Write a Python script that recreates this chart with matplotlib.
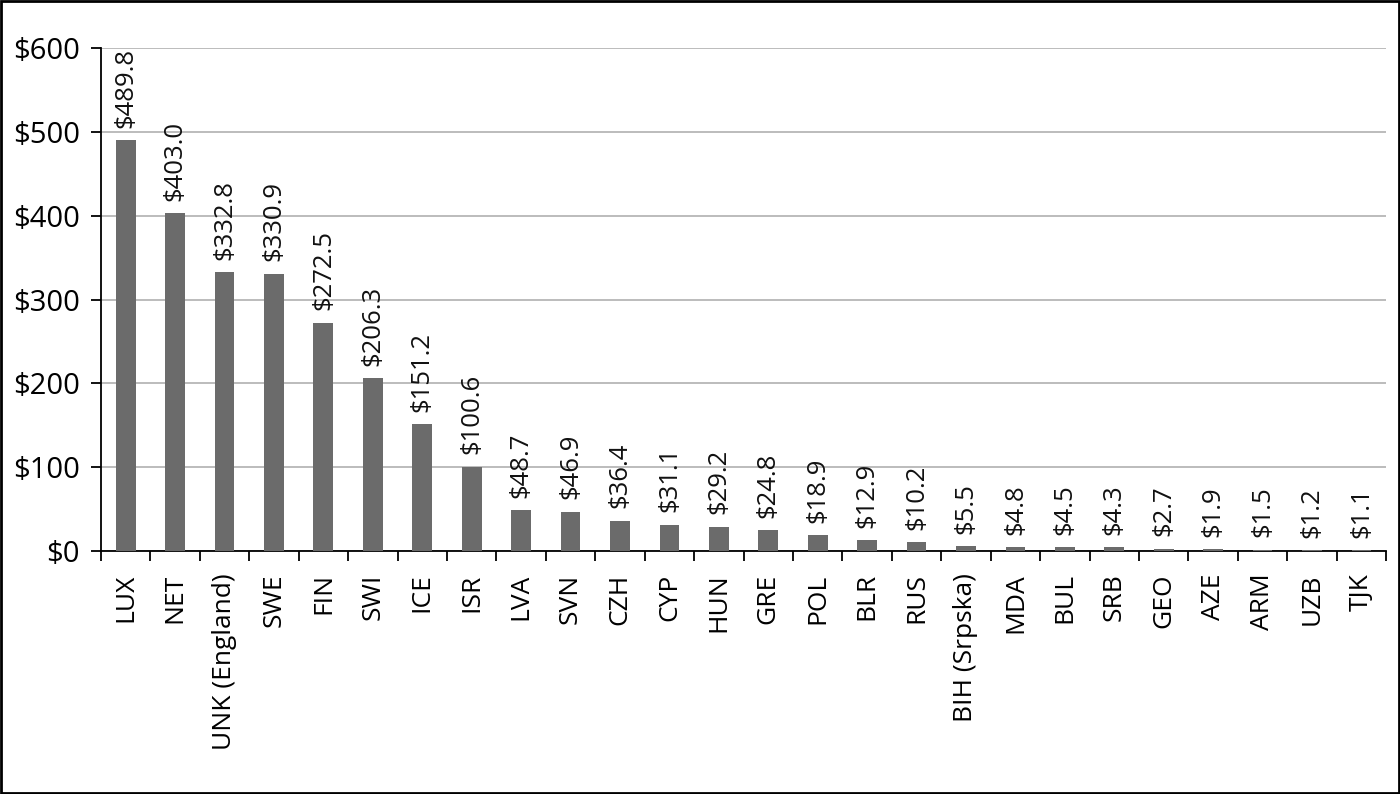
import matplotlib
matplotlib.use("Agg")
import matplotlib.pyplot as plt
from matplotlib.patches import Rectangle

countries = ["LUX", "NET", "UNK (England)", "SWE", "FIN", "SWI", "ICE", "ISR", "LVA", "SVN",
             "CZH", "CYP", "HUN", "GRE", "POL", "BLR", "RUS", "BIH (Srpska)", "MDA", "BUL",
             "SRB", "GEO", "AZE", "ARM", "UZB", "TJK"]
values = [489.8, 403.0, 332.8, 330.9, 272.5, 206.3, 151.2, 100.6, 48.7, 46.9,
          36.4, 31.1, 29.2, 24.8, 18.9, 12.9, 10.2, 5.5, 4.8, 4.5,
          4.3, 2.7, 1.9, 1.5, 1.2, 1.1]
yticks = [0, 100, 200, 300, 400, 500, 600]

plt.rcParams['font.family'] = ['Open Sans', 'DejaVu Sans']

fig = plt.figure(figsize=(14, 7.94), dpi=100)
ax = fig.add_axes([0.0721, 0.306, 0.918, 0.6335])

x = list(range(len(countries)))
ax.bar(x, values, width=0.4, color="#6b6b6b", zorder=3)

# value labels above each bar
for xi, v in zip(x, values):
    ax.annotate("$%.1f" % v, (xi, v), xytext=(0, 9), textcoords="offset points",
                rotation=90, ha="center", va="bottom", fontsize=18.5, color="#111111")

ax.set_xlim(-0.5, len(countries) - 0.5)
ax.set_ylim(0, 600)
ax.set_yticks(yticks)
ax.set_yticklabels(["$%d" % t for t in yticks], fontsize=21)
ax.set_xticks(x)
ax.set_xticklabels(countries, rotation=90, fontsize=19)
ax.set_xticks([i - 0.5 for i in range(len(countries) + 1)], minor=True)
ax.tick_params(axis="x", which="major", length=0, pad=16)
ax.tick_params(axis="x", which="minor", length=7, width=1.3, direction="out")
ax.tick_params(axis="y", length=7, width=1.3, pad=8)

ax.yaxis.grid(True, color="#b0b0b0", linewidth=1.2, zorder=0)
ax.spines["top"].set_visible(False)
ax.spines["right"].set_visible(False)
ax.spines["left"].set_linewidth(1.3)
ax.spines["bottom"].set_linewidth(1.3)

fig.patches.append(Rectangle((0.001, 0.0015), 0.998, 0.997, transform=fig.transFigure,
                             fill=False, edgecolor="black", linewidth=2))

fig.savefig("out.png", dpi=100)
